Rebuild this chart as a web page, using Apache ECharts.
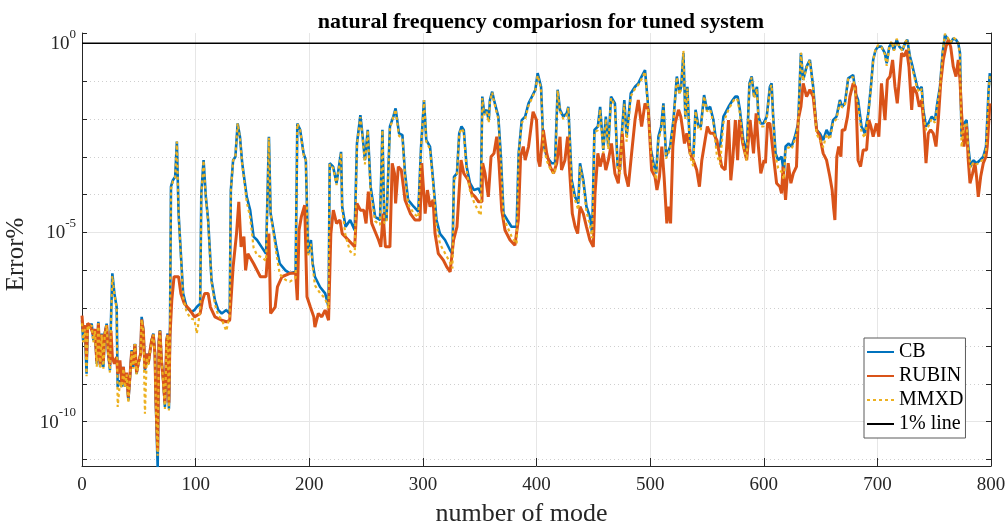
<!DOCTYPE html>
<html><head><meta charset="utf-8">
<script src="https://cdn.jsdelivr.net/npm/echarts@6/dist/echarts.min.js"></script>
<style>html,body{margin:0;padding:0;background:#fff}#c{width:1008px;height:524px}</style>
</head><body><div id="c"></div>
<script>
const chartTitle = 'natural frequency compariosn for tuned system';
const xName = 'number of mode';
const yName = 'Error%';
const legendNames = ['CB', 'RUBIN', 'MMXD', '1% line'];
const xTicks = [0, 100, 200, 300, 400, 500, 600, 700, 800];
const yLabelExps = [-10, -5, 0];      // labelled decades (10^-10, 10^-5, 10^0)
const yRangeExp = [-11.17, 0.27];     // visible decades of the log axis
const onePercentExp = 0;              // log10(1)
// [mode, log10(error)]
const cbData = [[0,-7.32],[1,-7.85],[2.6,-7.5],[4,-8.73],[5,-7.41],[7,-7.5],[8.5,-7.41],[10,-7.85],[11.4,-7.58],[13,-8.47],[14.4,-7.36],[16,-8.55],[17.3,-7.67],[18.8,-8.55],[20,-7.67],[21.7,-7.41],[23,-8.2],[24.6,-8.64],[25.5,-7.32],[26.7,-6.08],[28.5,-6.61],[30.5,-6.97],[31.4,-9.08],[33.4,-8.91],[35,-9.08],[36.4,-8.55],[37.8,-9.08],[39.3,-8.73],[40.8,-9.44],[42.2,-8.82],[43.7,-8.11],[45,-8.55],[46.6,-7.94],[48,-8.73],[49.6,-8.47],[51.6,-8.2],[52.5,-7.23],[54,-7.58],[55.4,-8.64],[57,-8.2],[58.4,-8.47],[60,-8.11],[61.3,-7.85],[62.8,-7.67],[64.2,-8.2],[65,-9.52],[66.6,-11.2],[67.7,-7.85],[68.6,-7.58],[70,-8.38],[71.5,-8.91],[73,-9.61],[74.5,-7.85],[75.4,-7.67],[76.5,-9.66],[77.4,-7.85],[78.3,-3.79],[80,-3.62],[82,-3.53],[83.5,-2.6],[85,-4.5],[87,-5.56],[89,-6.61],[92,-6.97],[96,-7.1],[99,-7.05],[101,-6.97],[104,-6.88],[105,-3.97],[107,-3.09],[109,-4.06],[111,-4.67],[114,-6.26],[117,-6.79],[120,-7.05],[123,-7.14],[127,-7.05],[130,-7.14],[131,-3.88],[133,-3.09],[135,-3.0],[137,-2.12],[139,-2.47],[141,-3.17],[145,-4.06],[148,-4.41],[151,-5.11],[154,-5.2],[158,-5.38],[162,-5.56],[164.5,-2.47],[166,-4.5],[168,-4.85],[171,-5.38],[174,-5.82],[179,-6.0],[183,-6.08],[188,-6.04],[189.5,-2.12],[192,-2.29],[195,-2.91],[197,-3.09],[199,-5.56],[201.5,-5.2],[203,-5.82],[205,-6.17],[209.5,-6.44],[214,-6.61],[217,-6.97],[218,-3.17],[221,-3.26],[224,-3.7],[228,-2.87],[229,-4.32],[232,-4.85],[236,-4.67],[240,-4.94],[242,-2.65],[245,-1.9],[247,-2.47],[249,-3.09],[251.5,-2.29],[254,-3.79],[258,-4.59],[262.3,-4.67],[264.4,-2.29],[266,-4.67],[268,-4.67],[271,-2.2],[274,-1.94],[276,-1.72],[279,-2.38],[282,-2.43],[284.3,-3.44],[287,-4.14],[292,-4.32],[296,-4.45],[298.4,-2.73],[301,-1.5],[303,-2.56],[306.3,-2.73],[309,-3.62],[312,-4.67],[315,-5.03],[319.5,-5.2],[324,-5.47],[326,-5.56],[327.4,-3.53],[330,-3.44],[332,-2.38],[334,-2.2],[336,-2.29],[338.5,-3.26],[341.5,-3.7],[345,-3.88],[349,-3.84],[351,-3.97],[352.3,-1.41],[354,-1.85],[356,-1.76],[358,-2.03],[359,-1.5],[361,-1.28],[362.6,-1.5],[366.4,-1.94],[368.5,-2.91],[371,-4.5],[374.3,-4.67],[378,-4.85],[382.5,-4.85],[384.3,-2.91],[387,-2.03],[390,-1.94],[393,-1.59],[396,-1.41],[399,-1.23],[401,-0.79],[404,-1.15],[406,-2.65],[409,-3.0],[413.4,-3.17],[416.3,-3.17],[418.6,-1.23],[420.7,-1.76],[423.6,-1.94],[426.6,-1.85],[428,-1.68],[431,-3.62],[434,-4.06],[436.8,-4.23],[438.3,-3.17],[441.2,-3.62],[444,-4.32],[447,-4.59],[449,-5.03],[451,-2.29],[454,-2.2],[456,-1.68],[458.8,-2.82],[461,-1.94],[463.2,-2.73],[465.6,-1.41],[469,-1.59],[471.4,-3.26],[473.5,-3.35],[475.5,-2.2],[477.3,-1.5],[479.3,-2.47],[483,-1.32],[486.7,-1.15],[489.6,-1.06],[492.5,-0.88],[495.5,-0.71],[497.8,-1.5],[500.8,-2.82],[503,-3.17],[505.3,-3.44],[507.3,-2.47],[509.7,-2.2],[511.7,-1.59],[514,-2.99],[517.6,-2.73],[520.5,-2.03],[523.5,-0.88],[525.8,-1.32],[527.3,-1.15],[529.3,-0.26],[531,-1.94],[532.8,-1.15],[535.2,-2.91],[538,-3.0],[540,-1.76],[542.5,-2.2],[544.6,-2.2],[547.5,-1.37],[550,-1.76],[552.8,-1.68],[555.7,-2.03],[558.7,-2.73],[561.6,-2.73],[564.5,-1.94],[569,-1.68],[572.7,-1.5],[575,-1.41],[577,-1.41],[579,-1.76],[582,-2.56],[585,-2.91],[587.4,-1.06],[589.4,-0.88],[591.5,-1.41],[594,-1.15],[595.3,-1.94],[597.4,-2.12],[599.7,-2.12],[602.6,-1.94],[605.4,-1.15],[606.9,-1.06],[608.3,-1.94],[610.4,-2.91],[612.7,-3.09],[615.7,-3.0],[617.7,-3.44],[619.2,-2.73],[622,-2.65],[624.5,-2.73],[627.4,-2.47],[630.3,-2.12],[632.7,-0.26],[634.7,-0.97],[637.7,-0.62],[640.6,-0.44],[643.5,-1.15],[646.5,-2.29],[649.4,-2.38],[652.3,-2.56],[655.3,-2.29],[658.2,-2.47],[661,-2.03],[664,-1.94],[667,-1.5],[669,-1.68],[671.4,-1.59],[674.3,-0.93],[676.7,-0.88],[678.7,-0.84],[680.8,-1.32],[683,-1.5],[686,-2.2],[689,-2.38],[692,-1.85],[694.3,-1.15],[696.3,-0.44],[698.4,-0.18],[700.7,-0.09],[703.6,-0.09],[706.6,-0.26],[708.2,-0.53],[710.5,-0.09],[712.6,0],[714.6,-0.18],[717,0.09],[719.3,-0.09],[722.2,-0.18],[724.3,0],[726.3,0.09],[728.7,-0.35],[731,-0.62],[733,-0.88],[735.1,-1.15],[737.5,-1.23],[739,-1.15],[740.4,-1.76],[742.8,-2.2],[744.8,-2.12],[747.8,-1.94],[750.7,-2.03],[752.7,-1.59],[755.1,-1.15],[757.4,-0.26],[759.5,0.22],[762.4,0.09],[764.5,0],[766.8,0.13],[769.2,0.09],[771.2,0],[772.7,-0.26],[774.1,-2.47],[776.2,-2.12],[778.5,-2.03],[780,-2.73],[782,-3.26],[784.4,-3.09],[787.3,-3.17],[790.3,-3.09],[793.2,-3.0],[795.6,-2.73],[796.7,-2.03],[797.9,-1.23],[799,-0.79]];
const rubinData = [[0,-7.2],[1,-7.6],[2.6,-7.45],[4,-8.3],[5,-7.4],[7,-7.45],[8.5,-7.45],[10,-7.7],[11.4,-7.55],[13,-8.4],[14.4,-7.4],[16,-8.5],[17.3,-7.7],[18.8,-8.4],[20,-7.7],[21.7,-7.45],[23,-8.1],[24.6,-8.5],[25.5,-7.6],[26.7,-8.29],[28.5,-8.47],[30.5,-8.29],[31.4,-8.73],[33.4,-8.38],[35,-9.0],[36.4,-8.55],[37.8,-9.0],[39.3,-8.7],[40.8,-9.35],[42.2,-8.8],[43.7,-8.15],[45,-8.5],[46.6,-7.95],[48,-8.7],[49.6,-8.45],[51.6,-8.2],[52.5,-7.3],[54,-7.6],[55.4,-8.6],[57,-8.2],[58.4,-8.45],[60,-8.1],[61.3,-7.85],[62.8,-7.7],[64.2,-8.2],[65,-9.4],[66.6,-10.76],[67.7,-7.9],[68.6,-7.6],[70,-8.4],[71.5,-8.9],[73,-9.5],[74.5,-7.85],[75.4,-7.7],[76.5,-9.5],[77.4,-7.76],[79,-6.8],[81,-6.17],[85,-6.17],[87,-6.61],[90,-6.88],[95,-7.05],[99,-7.23],[104,-7.14],[106,-6.8],[108,-6.61],[111,-6.61],[113,-6.97],[117,-7.23],[123,-7.32],[127,-7.36],[130,-7.32],[133,-5.91],[136,-5.03],[138,-4.19],[140,-5.38],[142.5,-5.11],[144,-6.0],[146,-5.56],[151,-5.82],[157,-6.17],[162,-6.17],[164.5,-5.03],[166,-7.14],[170,-6.97],[172,-6.44],[176,-6.17],[183,-6.08],[188,-6.08],[189.5,-6.79],[191,-4.94],[193,-4.59],[196,-4.28],[198,-6.7],[201,-6.97],[204,-7.23],[205,-7.5],[208,-7.14],[211,-7.23],[214,-7.05],[217,-7.32],[219,-5.03],[221.2,-4.41],[224,-4.76],[227,-4.67],[229,-5.03],[234.4,-5.2],[240,-5.38],[242,-4.23],[245,-4.41],[248,-4.41],[250,-4.76],[252,-3.92],[255,-4.76],[261,-5.2],[263,-5.38],[265,-4.5],[267,-5.38],[271,-5.38],[273,-3.17],[275,-3.44],[276,-4.23],[278.4,-3.26],[281,-3.35],[284.3,-4.14],[289,-4.5],[293,-4.67],[297.5,-4.67],[299,-3.17],[302,-4.5],[304,-3.88],[306.3,-4.32],[309,-4.14],[310.7,-5.03],[313.6,-5.56],[318,-5.73],[321,-5.91],[324,-6.04],[327,-5.2],[330,-4.85],[333.6,-3.09],[336,-3.44],[340,-3.62],[343,-3.97],[346,-4.06],[349,-4.19],[352,-4.19],[352.6,-3.17],[354.7,-3.44],[357.6,-4.06],[360,-3.0],[362.6,-2.91],[365,-2.47],[367,-3.17],[369.4,-4.41],[372.3,-4.94],[376.7,-5.2],[381,-5.34],[384,-4.67],[386,-2.99],[388.4,-2.73],[390,-3.09],[393,-2.73],[396,-2.03],[397,-1.81],[400,-2.03],[401.6,-3.09],[403,-3.26],[406,-2.29],[409,-2.91],[412,-3.26],[415,-3.44],[417.8,-3.17],[420.7,-2.47],[422,-3.35],[425,-3.09],[427.4,-2.47],[429.5,-3.53],[431.5,-4.5],[434,-4.85],[436.2,-5.03],[438.3,-4.32],[441.2,-4.5],[444,-4.85],[447,-5.2],[450,-5.38],[451.5,-3.97],[454,-2.91],[456,-3.26],[458.8,-2.91],[461,-3.35],[463.2,-3.09],[466,-2.65],[469,-3.44],[472,-3.7],[475.5,-2.38],[478,-3.44],[480.8,-3.79],[483.7,-2.91],[486.7,-2.03],[489.6,-1.5],[492.5,-2.2],[495.5,-1.59],[498.4,-1.76],[501.3,-3.35],[504.3,-3.53],[506,-3.88],[508.2,-3.53],[510.3,-2.73],[512.3,-3.53],[514.7,-4.76],[516,-4.32],[518,-4.76],[520,-2.73],[522,-2.12],[525,-1.76],[527,-1.94],[528.7,-2.29],[530.2,-2.65],[532.3,-2.38],[535.2,-2.91],[538,-3.09],[541,-3.35],[543.4,-3.79],[545.5,-3.09],[548.4,-2.56],[550.4,-2.2],[552.8,-2.38],[555.7,-2.38],[558.7,-2.56],[563,-3.26],[566,-3.35],[569,-2.03],[571,-3.62],[572.7,-3.09],[575,-2.03],[577,-3.09],[578.6,-2.03],[581.5,-2.65],[585,-3.09],[588,-2.03],[591,-2.91],[593.3,-1.85],[595.3,-2.73],[597.4,-3.44],[600.3,-3.09],[601.5,-3.17],[603.3,-2.12],[605.4,-2.12],[608.3,-2.91],[611.3,-3.7],[614.2,-3.79],[615.7,-3.97],[617,-3.26],[619.2,-4.14],[621.5,-3.17],[623.9,-3.7],[626,-3.44],[628.8,-3.26],[630.3,-2.03],[632.7,-1.68],[634.7,-1.06],[637.7,-1.41],[640.6,-1.23],[643.5,-1.41],[646.5,-2.29],[649.4,-2.47],[652.3,-2.91],[655.3,-3.09],[658.2,-3.53],[660.2,-3.88],[661.4,-4.32],[662.6,-4.67],[664.3,-3.0],[666,-2.73],[667.9,-3.0],[669,-2.29],[671.4,-2.29],[673.7,-1.94],[675.8,-1.41],[678.7,-1.06],[680.8,-1.15],[683,-3.09],[685.2,-3.26],[687.5,-2.82],[690.5,-2.82],[692.5,-2.03],[694.3,-2.2],[696.3,-2.47],[699.2,-2.12],[701.3,-2.47],[703.6,-1.06],[706.7,-2.03],[708.8,-0.97],[711.1,-0.88],[713.4,-0.44],[715.5,-1.15],[717.5,-1.59],[719.3,-0.97],[721.3,-0.26],[723.4,-0.35],[725.8,-0.18],[727.8,-0.62],[730.2,-1.76],[731.6,-1.15],[734.6,-1.32],[736.9,-1.68],[739,-1.5],[741,-2.2],[742.8,-3.17],[744.8,-2.38],[746.9,-2.29],[749.2,-2.38],[751.6,-2.73],[753.6,-2.03],[755.7,-1.06],[758,-0.44],[760.4,-0.09],[762.4,0.09],[764.5,-0.09],[766.8,-0.62],[769.2,-0.88],[771.2,-0.44],[772.7,-0.97],[774.1,-1.85],[776.2,-2.73],[778.5,-2.2],[780,-3.09],[781.5,-3.7],[783.8,-3.44],[785.9,-3.17],[787.3,-3.53],[788.8,-4.06],[790.9,-3.53],[793.2,-3.17],[795.6,-2.99],[796.7,-2.73],[799,-1.59]];
const mmxdData = [[0,-7.4],[1,-7.9],[2.6,-7.55],[4,-8.8],[5,-7.45],[7,-7.55],[8.5,-7.45],[10,-7.9],[11.4,-7.6],[13,-8.55],[14.4,-7.4],[16,-8.6],[17.3,-7.7],[18.8,-8.6],[20,-7.7],[21.7,-7.45],[23,-8.25],[24.6,-8.7],[25.5,-7.35],[26.7,-6.15],[28.5,-6.65],[30.5,-7.0],[31.4,-9.61],[33.4,-8.95],[35,-9.1],[36.4,-8.6],[37.8,-9.1],[39.3,-8.75],[40.8,-9.5],[42.2,-8.85],[43.7,-8.15],[45,-8.6],[46.6,-7.95],[48,-8.75],[49.6,-8.5],[51.6,-8.25],[52.5,-7.3],[54,-7.6],[55.4,-9.79],[57,-8.3],[58.4,-8.5],[60,-8.15],[61.3,-7.9],[62.8,-7.7],[64.2,-8.25],[65,-9.6],[66.6,-10.9],[67.7,-7.9],[68.6,-7.6],[70,-8.4],[71.5,-8.95],[73,-9.66],[74.5,-7.9],[75.4,-7.7],[76.5,-9.7],[77.4,-7.9],[78.3,-3.85],[80,-3.65],[82,-3.55],[83.5,-2.6],[85,-4.5],[87,-5.6],[89,-6.7],[92,-7.1],[96,-7.28],[99,-7.3],[101,-7.67],[102,-7.5],[104,-7.0],[105,-4.0],[107,-3.1],[109,-4.1],[111,-4.7],[114,-6.3],[117,-6.9],[120,-7.2],[123,-7.3],[127,-7.6],[128,-7.55],[130,-7.2],[131,-3.9],[133,-3.1],[135,-3.0],[137,-2.12],[139,-2.5],[141,-3.2],[145,-4.2],[148,-4.6],[151,-5.4],[154,-5.6],[158,-5.65],[162,-5.75],[164.5,-2.5],[166,-4.5],[168,-4.9],[171,-5.55],[174,-6.1],[179,-6.25],[183,-6.3],[188,-6.2],[189.5,-2.12],[192,-2.3],[195,-2.95],[197,-3.1],[199,-5.6],[201.5,-5.3],[203,-5.9],[205,-6.4],[209.5,-6.6],[214,-6.75],[217,-7.0],[218,-3.2],[221,-3.3],[224,-3.75],[228,-2.9],[229,-4.4],[232,-5.1],[236,-5.5],[240,-5.6],[242,-2.7],[245,-1.95],[247,-2.5],[249,-3.2],[251.5,-2.3],[254,-3.9],[258,-4.7],[262.3,-4.8],[264.4,-2.3],[266,-4.75],[268,-4.75],[271,-2.25],[274,-1.95],[276,-1.75],[279,-2.45],[282,-2.5],[284.3,-3.5],[287,-4.25],[292,-4.5],[296,-4.6],[298.4,-2.75],[301,-1.5],[303,-2.6],[306.3,-2.8],[309,-3.7],[312,-4.8],[315,-5.3],[319.5,-5.55],[324,-5.8],[326,-5.95],[327.4,-3.6],[330,-3.5],[332,-2.4],[334,-2.25],[336,-2.35],[338.5,-3.35],[341.5,-3.9],[345,-4.2],[349,-4.45],[351,-4.55],[352.3,-1.45],[354,-1.9],[356,-1.8],[358,-2.1],[359,-1.55],[361,-1.3],[362.6,-1.55],[366.4,-2.0],[368.5,-3.0],[371,-4.6],[374.3,-4.85],[378,-5.1],[382.5,-5.3],[384.3,-2.95],[387,-2.1],[390,-2.0],[393,-1.65],[396,-1.45],[399,-1.25],[401,-0.85],[404,-1.2],[406,-2.7],[409,-3.1],[413.4,-3.4],[416.3,-3.45],[418.6,-1.25],[420.7,-1.8],[423.6,-2.0],[426.6,-1.9],[428,-1.7],[431,-3.7],[434,-4.15],[436.8,-4.4],[438.3,-3.25],[441.2,-3.7],[444,-4.45],[447,-4.8],[449,-5.15],[451,-2.35],[454,-2.3],[456,-1.75],[458.8,-2.9],[461,-2.0],[463.2,-2.8],[465.6,-1.45],[469,-1.65],[471.4,-3.3],[473.5,-3.45],[475.5,-2.3],[477.3,-1.6],[479.3,-2.6],[483,-1.4],[486.7,-1.2],[489.6,-1.1],[492.5,-0.95],[495.5,-0.75],[497.8,-1.55],[500.8,-2.9],[503,-3.25],[505.3,-3.6],[507.3,-2.55],[509.7,-2.3],[511.7,-1.65],[514,-3.05],[517.6,-2.8],[520.5,-2.1],[523.5,-0.9],[525.8,-1.35],[527.3,-1.2],[529.3,-0.2],[531,-2.0],[532.8,-1.2],[535.2,-3.0],[538,-3.25],[540,-1.8],[542.5,-2.25],[544.6,-2.3],[547.5,-1.4],[550,-1.8],[552.8,-1.75],[555.7,-2.1],[558.7,-2.95],[561.6,-3.2],[564.5,-2.1],[569,-1.75],[572.7,-1.55],[575,-1.45],[577,-1.5],[579,-1.85],[582,-2.7],[585,-3.1],[587.4,-1.1],[589.4,-0.9],[591.5,-1.45],[594,-1.2],[595.3,-2.0],[597.4,-2.2],[599.7,-2.2],[602.6,-2.0],[605.4,-1.2],[606.9,-1.1],[608.3,-2.0],[610.4,-3.0],[612.7,-3.3],[615.7,-3.4],[617.7,-3.6],[619.2,-2.8],[622,-2.75],[624.5,-2.8],[627.4,-2.55],[630.3,-2.2],[632.7,-0.25],[634.7,-1.0],[637.7,-0.65],[640.6,-0.45],[643.5,-1.2],[646.5,-2.4],[649.4,-2.55],[652.3,-2.75],[655.3,-2.4],[658.2,-2.55],[661,-2.1],[664,-2.0],[667,-1.55],[669,-1.7],[671.4,-1.65],[674.3,-0.95],[676.7,-0.9],[678.7,-0.9],[680.8,-1.4],[683,-1.6],[686,-2.35],[689,-2.5],[692,-1.9],[694.3,-1.2],[696.3,-0.45],[698.4,-0.15],[700.7,-0.05],[703.6,-0.1],[706.6,-0.3],[708.2,-0.6],[710.5,-0.1],[712.6,0.05],[714.6,-0.2],[717,0.12],[719.3,-0.1],[722.2,-0.2],[724.3,0.02],[726.3,0.1],[728.7,-0.4],[731,-0.7],[733,-0.95],[735.1,-1.2],[737.5,-1.3],[739,-1.2],[740.4,-1.85],[742.8,-2.3],[744.8,-2.2],[747.8,-2.0],[750.7,-2.1],[752.7,-1.65],[755.1,-1.2],[757.4,-0.25],[759.5,0.25],[762.4,0.12],[764.5,0.02],[766.8,0.15],[769.2,0.1],[771.2,0],[772.7,-0.3],[774.1,-2.75],[776.2,-2.2],[778.5,-2.1],[780,-2.8],[782,-3.3],[784.4,-3.15],[787.3,-3.2],[790.3,-3.15],[793.2,-3.05],[795.6,-2.8],[796.7,-2.1],[797.9,-1.3],[799,-0.85]];

const FONT = 'Liberation Serif';
const AX = '#262626';
const isInt = v => Math.abs(v - Math.round(v)) < 1e-6;
const labelFmt = v => {
  if (!isInt(v) || yLabelExps.indexOf(Math.round(v)) < 0) return '';
  return '{b|10}{s|' + Math.round(v) + '}';
};
const yBase = {type: 'value', min: yRangeExp[0], max: yRangeExp[1]};
const chart = echarts.init(document.getElementById('c'), null, {renderer: 'canvas'});
chart.setOption({
  animation: false,
  backgroundColor: '#fff',
  title: {
    text: chartTitle, left: 536, textAlign: 'center', top: 6,
    textStyle: {fontFamily: FONT, fontWeight: 'bold', fontSize: 22, color: '#000'}
  },
  grid: {left: 82, right: 17, top: 33, bottom: 58, containLabel: false, outerBoundsMode: 'none'},
  legend: {
    orient: 'vertical', left: 864, top: 338, itemWidth: 27, itemHeight: 12, itemGap: 4,
    padding: [4, 2, 4, 2], borderColor: '#5a5a5a', borderWidth: 1, backgroundColor: '#fff',
    itemStyle: {opacity: 0},
    textStyle: {fontFamily: FONT, fontSize: 20, color: '#000'},
    data: legendNames
  },
  xAxis: {
    type: 'value', min: xTicks[0], max: xTicks[xTicks.length - 1], interval: 100,
    name: xName, nameLocation: 'middle', nameGap: 35,
    nameTextStyle: {fontFamily: FONT, fontSize: 26, color: AX, padding: [0, 30, 0, 0]},
    axisLine: {onZero: false, lineStyle: {color: AX, width: 1}},
    axisTick: {inside: true, length: 8, lineStyle: {color: AX}},
    axisLabel: {fontFamily: FONT, fontSize: 19, color: AX, margin: 10},
    splitLine: {show: true, lineStyle: {color: '#e6e6e6', width: 1}}
  },
  yAxis: [
    Object.assign({}, yBase, {
      position: 'left', splitNumber: 11,
      name: yName, nameLocation: 'middle', nameGap: 51,
      nameTextStyle: {fontFamily: FONT, fontSize: 25, color: AX, padding: [0, 10, 0, 0]},
      axisLine: {show: true, onZero: false, lineStyle: {color: AX, width: 1}},
      axisTick: {show: true, inside: true, length: 5, lineStyle: {color: AX}},
      axisLabel: {
        formatter: labelFmt, margin: 6, padding: [2, 0, 0, 0],
        rich: {
          b: {fontFamily: FONT, fontSize: 19, color: AX, lineHeight: 19, verticalAlign: 'bottom'},
          s: {fontFamily: FONT, fontSize: 13, color: AX, lineHeight: 13, verticalAlign: 'bottom', padding: [0, 0, 13, 0]}
        }
      },
      splitLine: {show: true, showMinLine: false, showMaxLine: false, lineStyle: {color: '#cfcfcf', type: [1, 3], width: 1}}
    }),
    Object.assign({}, yBase, {
      position: 'right', splitNumber: 2,
      axisLine: {show: false, onZero: false}, axisTick: {show: false}, axisLabel: {show: false},
      splitLine: {show: true, showMinLine: false, showMaxLine: false, lineStyle: {color: '#e6e6e6', type: 'solid', width: 1}}
    }),
    Object.assign({}, yBase, {
      position: 'right', splitNumber: 11,
      axisLine: {show: true, onZero: false, lineStyle: {color: AX, width: 1}},
      axisTick: {show: true, inside: true, length: 5, lineStyle: {color: AX}},
      axisLabel: {show: false},
      splitLine: {show: false}
    })
  ],
  series: [
    {
      name: 'CB', type: 'line', data: cbData, symbol: 'none', z: 2,
      lineStyle: {color: '#0072BD', width: 2.6}, itemStyle: {color: '#0072BD'}
    },
    {
      name: 'RUBIN', type: 'line', data: rubinData, symbol: 'none', z: 3,
      lineStyle: {color: '#D95319', width: 3}, itemStyle: {color: '#D95319'}
    },
    {
      name: 'MMXD', type: 'line', data: mmxdData, symbol: 'none', z: 4,
      lineStyle: {color: '#EDB120', width: 2.2, type: [3, 3]}, itemStyle: {color: '#EDB120'}
    },
    {
      name: '1% line', type: 'line', data: [[xTicks[0], onePercentExp], [xTicks[xTicks.length - 1], onePercentExp]],
      symbol: 'none', z: 5,
      lineStyle: {color: '#000', width: 1.5}, itemStyle: {color: '#000'}
    }
  ]
});
</script>
</body></html>
